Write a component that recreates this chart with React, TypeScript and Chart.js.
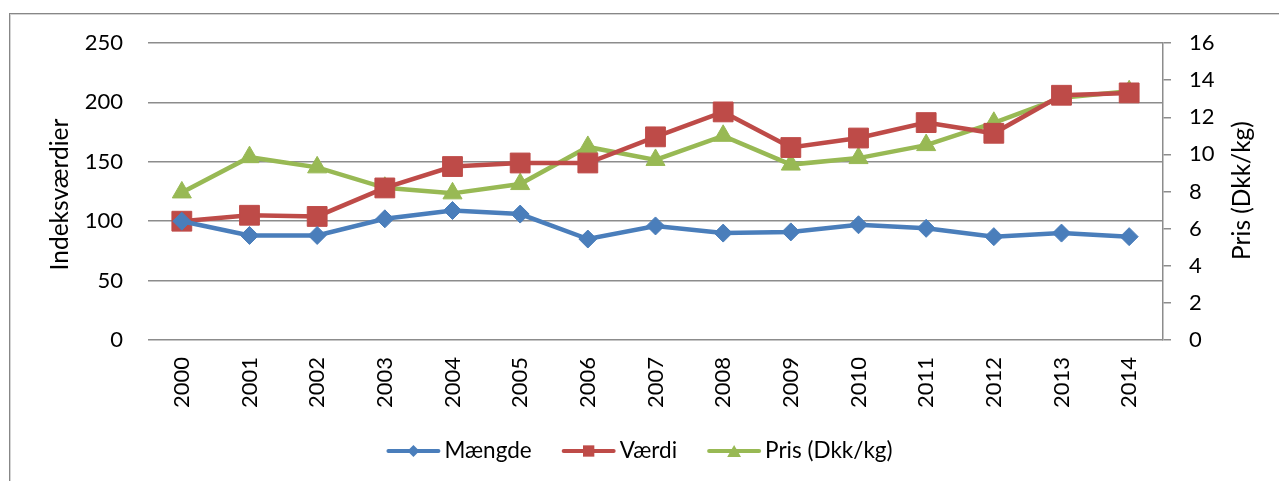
import { useEffect, useRef } from "react";
import { Chart, registerables } from "chart.js";

Chart.register(...registerables);

const years = ["2000", "2001", "2002", "2003", "2004", "2005", "2006", "2007", "2008", "2009", "2010", "2011", "2012", "2013", "2014"];
const maengde = [100, 88, 88, 102, 109, 106, 85, 96, 90, 91, 97, 94, 87, 90, 87];
const vaerdi = [100, 105, 104, 128, 146, 149, 149, 171, 192, 162, 170, 183, 174, 206, 208];
const pris = [7.95, 9.85, 9.3, 8.2, 7.9, 8.4, 10.4, 9.7, 11.0, 9.45, 9.8, 10.5, 11.7, 13.05, 13.4];

const seriesNames = ["Mængde", "Værdi", "Pris (Dkk/kg)"];
const seriesColors = ["#4A7EBB", "#BE4B48", "#98B954"];
const leftAxisTitle = "Indeksværdier";
const rightAxisTitle = "Pris (Dkk/kg)";

const FONT = "Lato";
const FS = 22;
const TITLE_FS = 24.5;
const LEGEND_FS = 22.5;
const GRID = "#8c8c8c";

function drawMarker(ctx: CanvasRenderingContext2D, style: string, r: number, x: number, y: number) {
  ctx.beginPath();
  if (style === "rectRot") {
    ctx.moveTo(x, y - r);
    ctx.lineTo(x + r, y);
    ctx.lineTo(x, y + r);
    ctx.lineTo(x - r, y);
  } else if (style === "rect") {
    const s = r * Math.SQRT1_2;
    ctx.rect(x - s, y - s, 2 * s, 2 * s);
  } else {
    for (let i = 0; i < 3; i++) {
      const a = (i * 2 * Math.PI) / 3;
      const px = x + Math.sin(a) * r;
      const py = y - Math.cos(a) * r;
      if (i === 0) ctx.moveTo(px, py);
      else ctx.lineTo(px, py);
    }
  }
  ctx.closePath();
  ctx.fill();
}

const decorPlugin = {
  id: "decor",
  beforeDraw(chart: any) {
    const ctx = chart.ctx;
    ctx.save();
    ctx.fillStyle = "#ffffff";
    ctx.fillRect(0, 0, chart.width, chart.height);
    ctx.strokeStyle = "#d4d4d4";
    ctx.lineWidth = 1;
    ctx.strokeRect(10.5, 14.5, 1300, 500);
    ctx.strokeStyle = "#878787";
    ctx.strokeRect(9.5, 13.5, 1300, 500);
    ctx.restore();
  },
  afterDraw(chart: any) {
    const ctx = chart.ctx;
    const area = chart.chartArea;
    const midY = (area.top + area.bottom) / 2;
    ctx.save();
    ctx.fillStyle = "#000";
    ctx.font = `${TITLE_FS}px ${FONT}`;
    ctx.textAlign = "center";
    ctx.textBaseline = "middle";
    ctx.save();
    ctx.translate(60, midY + 3);
    ctx.rotate(-Math.PI / 2);
    ctx.fillText(leftAxisTitle, 0, 0);
    ctx.restore();
    ctx.save();
    ctx.translate(1242, midY - 1);
    ctx.rotate(-Math.PI / 2);
    ctx.fillText(rightAxisTitle, 0, 0);
    ctx.restore();

    // legend
    ctx.font = `${LEGEND_FS}px ${FONT}`;
    const lineLen = 54;
    const gapText = 4;
    const gapItem = 30;
    const ly = 451;
    const items = chart.data.datasets.map((ds: any) => ({
      label: ds.label,
      color: ds.borderColor,
      style: ds.pointStyle,
      w: ctx.measureText(ds.label).width,
    }));
    let total = 0;
    items.forEach((it: any, i: number) => {
      total += lineLen + gapText + it.w + (i < items.length - 1 ? gapItem : 0);
    });
    let x = chart.width / 2 - total / 2;
    const legendRadius: Record<string, number> = { rectRot: 6, rect: 8, triangle: 8 };
    items.forEach((it: any) => {
      ctx.strokeStyle = it.color;
      ctx.lineWidth = 4;
      ctx.lineCap = "round";
      ctx.beginPath();
      ctx.moveTo(x + 2, ly);
      ctx.lineTo(x + lineLen - 2, ly);
      ctx.stroke();
      ctx.fillStyle = it.color;
      const r = legendRadius[it.style] || 6;
      const py = it.style === "triangle" ? ly + 2 : ly;
      drawMarker(ctx, it.style, r, x + lineLen / 2, py);
      ctx.fillStyle = "#000";
      ctx.textAlign = "left";
      ctx.fillText(it.label, x + lineLen + gapText, ly);
      x += lineLen + gapText + it.w + gapItem;
    });
    ctx.restore();
  },
};

export default function App() {
  const ref = useRef<HTMLCanvasElement | null>(null);
  useEffect(() => {
    if (!ref.current) return;
    const mk = (label: string, data: number[], color: string, style: string, r: number, axis: string) => ({
      label,
      data,
      borderColor: color,
      backgroundColor: color,
      borderWidth: 4.5,
      pointStyle: style,
      pointRadius: r,
      pointHoverRadius: r,
      pointBorderWidth: 1,
      pointBackgroundColor: color,
      pointBorderColor: color,
      yAxisID: axis,
      tension: 0,
    });
    const chart = new Chart(ref.current, {
      type: "line",
      data: {
        labels: years,
        datasets: [
          mk(seriesNames[0], maengde, seriesColors[0], "rectRot", 9, "y"),
          mk(seriesNames[1], vaerdi, seriesColors[1], "rect", 14, "y"),
          mk(seriesNames[2], pris, seriesColors[2], "triangle", 11, "y2"),
        ],
      },
      options: {
        animation: false,
        responsive: false,
        devicePixelRatio: 1,
        layout: { padding: { top: 43, left: 0, right: 0, bottom: 0 } },
        plugins: { legend: { display: false }, tooltip: { enabled: false }, title: { display: false } },
        scales: {
          x: {
            offset: true,
            grid: { display: false, drawTicks: false },
            border: { display: false },
            ticks: {
              minRotation: 90,
              maxRotation: 90,
              padding: 17,
              color: "#000",
              font: { family: FONT, size: FS },
            },
            afterFit: (s: any) => {
              s.height = 141;
            },
          },
          y: {
            position: "left",
            min: 0,
            max: 250,
            ticks: { stepSize: 50, padding: 25, color: "#000", font: { family: FONT, size: FS } },
            grid: { color: GRID, lineWidth: 1.5, drawTicks: false },
            border: { display: false },
            afterFit: (s: any) => {
              s.width = 148;
            },
          },
          y2: {
            position: "right",
            min: 0,
            max: 16,
            ticks: { stepSize: 2, padding: 18, color: "#000", font: { family: FONT, size: FS } },
            grid: { drawOnChartArea: false, drawTicks: true, tickLength: 8, color: GRID, lineWidth: 1.5 },
            border: { display: true, color: GRID, width: 1.5 },
            afterFit: (s: any) => {
              s.width = 116;
            },
          },
        },
      },
      plugins: [decorPlugin],
    } as any);
    return () => chart.destroy();
  }, []);
  return (
    <div style={{ position: "fixed", left: 0, top: 0, width: 1279, height: 481, background: "#fff" }}>
      <canvas ref={ref} width={1279} height={481} style={{ display: "block", width: 1279, height: 481 }} />
    </div>
  );
}
